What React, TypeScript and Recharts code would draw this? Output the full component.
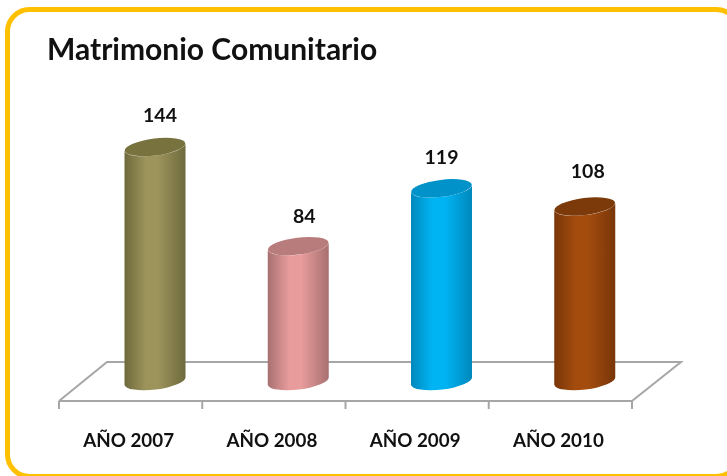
import { Bar, BarChart, LabelList, XAxis, YAxis } from "recharts";

const categories = ["AÑO 2007", "AÑO 2008", "AÑO 2009", "AÑO 2010"];
const values = [144, 84, 119, 108];

const bodyEdge = ["#6e6a3c", "#a87070", "#0088bc", "#783608"];
const bodyMid = ["#9d945c", "#e89c9c", "#00b4f4", "#a44c0e"];
const capFill = ["#78723f", "#b87c7c", "#0092c8", "#7c3a0a"];

// the source labels sit a little off the cylinder centres
const labelDx = [3, 4, -2, 1];
const labelDy = [1, 3, 2, -3];

const FONT = "Lato, sans-serif";
const GRID = "#a6a6a6";
const DEPTH_X = 24.5;
const BAND = 143.25;
const RX = 30.5;
const RY = 8.5;
const TILT = -7;

const data = categories.map((name, i) => ({ name, value: values[i] }));

function Cylinder(props: any) {
  const { x, y, width, height, index } = props;
  const cx = x + width / 2 + DEPTH_X;
  const base = y + height - 4;
  const dy = RX * Math.sin((-TILT * Math.PI) / 180);
  const left = cx - RX;
  const right = cx + RX;
  const body = `M${left},${y + dy} L${left},${base + dy} A${RX},${RY} ${TILT} 0 0 ${right},${base - dy} L${right},${y - dy} A${RX},${RY} ${TILT} 0 1 ${left},${y + dy} Z`;
  return (
    <g>
      <path d={body} fill={`url(#cyl${index})`} />
      <ellipse cx={cx} cy={y} rx={RX} ry={RY} fill={capFill[index]} transform={`rotate(${TILT} ${cx} ${y})`} />
    </g>
  );
}

function AxisTick(props: any) {
  const { x, y, payload, index } = props;
  return (
    <g>
      <line x1={x - BAND / 2} x2={x - BAND / 2} y1={y - 8} y2={y} stroke={GRID} strokeWidth={2} />
      {index === categories.length - 1 && (
        <line x1={x + BAND / 2} x2={x + BAND / 2} y1={y - 8} y2={y} stroke={GRID} strokeWidth={2} />
      )}
      <text x={x - 2} y={y + 38} textAnchor="middle" fontFamily={FONT} fontWeight={700} fontSize={18.8} fill="#111">
        {payload.value}
      </text>
    </g>
  );
}

function ValueLabel(props: any) {
  const { x, y, width, value, index } = props;
  return (
    <text
      x={x + width / 2 + DEPTH_X + 2 + labelDx[index]}
      y={y - 26 + labelDy[index]}
      textAnchor="middle"
      fontFamily={FONT}
      fontWeight={700}
      fontSize={19.5}
      fill="#111"
    >
      {value}
    </text>
  );
}

export default function App() {
  return (
    <div style={{ position: "absolute", left: 0, top: 0, width: 727, height: 476, overflow: "hidden", background: "#fff", filter: "blur(0.4px)" }}>
      <svg width={727} height={476} style={{ position: "absolute", left: 0, top: 0 }}>
        <rect x={7.5} y={9.5} width={731} height={467} rx={22} fill="#fff" stroke="#ffc000" strokeWidth={5} />
        <polyline points="59,401 107,362 681,362 632,401" fill="none" stroke={GRID} strokeWidth={2} />
        <text x={47} y={60} fontFamily={FONT} fontWeight={700} fontSize={30} fill="#111">
          Matrimonio Comunitario
        </text>
      </svg>
      <div style={{ position: "absolute", left: 0, top: 0 }}>
        <BarChart width={727} height={476} data={data} margin={{ top: 90, right: 95, bottom: 0, left: 59 }}>
          <defs>
            {bodyMid.map((mid, i) => (
              <linearGradient key={i} id={`cyl${i}`} x1="0" y1="0" x2="1" y2="0">
                <stop offset="0" stopColor={bodyEdge[i]} />
                <stop offset="0.35" stopColor={mid} />
                <stop offset="0.55" stopColor={mid} />
                <stop offset="1" stopColor={bodyEdge[i]} />
              </linearGradient>
            ))}
          </defs>
          <XAxis
            dataKey="name"
            height={75}
            interval={0}
            axisLine={{ stroke: GRID, strokeWidth: 2 }}
            tickLine={false}
            tick={<AxisTick />}
          />
          <YAxis hide domain={[-9.7, 178.5]} allowDataOverflow />
          <Bar dataKey="value" barSize={61} shape={<Cylinder />} isAnimationActive={false}>
            <LabelList dataKey="value" content={<ValueLabel />} />
          </Bar>
        </BarChart>
      </div>
    </div>
  );
}
